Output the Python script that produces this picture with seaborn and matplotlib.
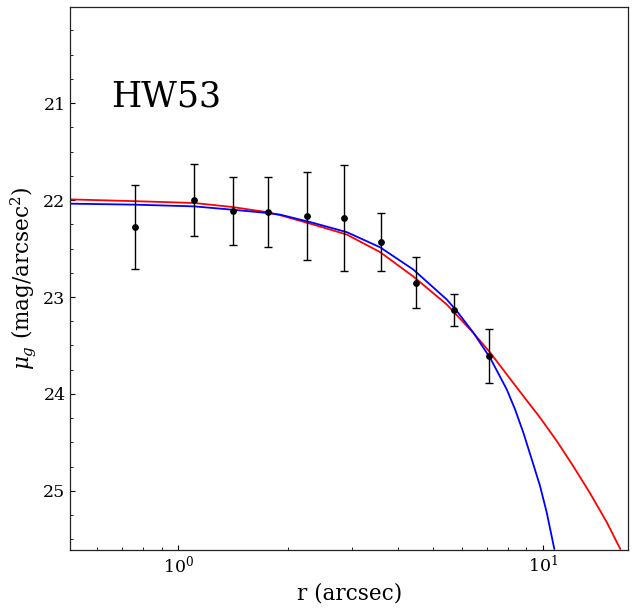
import numpy as np
import pandas as pd
import matplotlib
matplotlib.use("Agg")
import matplotlib.pyplot as plt
import seaborn as sns
from matplotlib.ticker import MultipleLocator, LogLocator, NullFormatter

# Observed profile
r_obs = [0.759, 1.108, 1.409, 1.757, 2.256, 2.855, 3.606, 4.497, 5.715, 7.127]
mu_obs = [22.277, 21.999, 22.112, 22.123, 22.164, 22.184, 22.431, 22.854, 23.132, 23.606]
mu_err = [0.433, 0.376, 0.355, 0.360, 0.457, 0.546, 0.299, 0.263, 0.165, 0.278]

# Red model curve
r_red = [0.5059, 0.7576, 1.1061, 1.4056, 1.7533, 1.9030, 2.3486, 2.8993, 3.5758, 4.4118,
         5.4468, 6.4442, 7.1571, 7.9535, 8.8319, 9.8125, 10.903, 12.106, 13.455, 14.947, 16.285]
mu_red = [21.993, 22.011, 22.030, 22.071, 22.125, 22.156, 22.253, 22.356, 22.537, 22.789,
          23.077, 23.371, 23.572, 23.798, 24.022, 24.244, 24.485, 24.746, 25.024, 25.322, 25.600]

# Blue model curve
r_blue = [0.5059, 0.7576, 1.1061, 1.4056, 1.7533, 1.9030, 2.3486, 2.8993, 3.5758, 4.4118,
          5.4468, 5.8006, 6.4442, 7.1571, 7.9535, 8.3809, 8.8319, 9.3115, 9.8125, 10.236, 10.739]
mu_blue = [22.037, 22.047, 22.065, 22.099, 22.133, 22.150, 22.236, 22.331, 22.487, 22.717,
           23.026, 23.144, 23.369, 23.626, 23.953, 24.159, 24.399, 24.674, 24.949, 25.223, 25.600]

label_text = "HW53"

sns.set_style("ticks")
plt.rcParams['font.family'] = ['DejaVu Serif']
plt.rcParams['mathtext.fontset'] = 'dejavuserif'
plt.rcParams.update({
    'xtick.direction': 'in', 'ytick.direction': 'in',
    'xtick.major.size': 3.5, 'ytick.major.size': 3.5,
    'xtick.minor.size': 2, 'ytick.minor.size': 2,
    'xtick.major.width': 0.8, 'ytick.major.width': 0.8,
    'xtick.minor.width': 0.6, 'ytick.minor.width': 0.6,
    'axes.linewidth': 0.9,
    'text.color': 'black', 'axes.labelcolor': 'black',
    'xtick.color': 'black', 'ytick.color': 'black',
    'axes.edgecolor': '#222222',
})

fig = plt.figure(figsize=(6.34, 6.08), dpi=100)
ax = fig.add_axes([70.3/634, 1-550/608, (628.3-70.3)/634, (550-7)/608])

df_red = pd.DataFrame({'r': r_red, 'mu': mu_red})
df_blue = pd.DataFrame({'r': r_blue, 'mu': mu_blue})
df_obs = pd.DataFrame({'r': r_obs, 'mu': mu_obs, 'err': mu_err})

ax.errorbar(df_obs['r'], df_obs['mu'], yerr=df_obs['err'], fmt='none',
            ecolor='black', elinewidth=1.0, capsize=2.8, capthick=1.0, zorder=3)
sns.scatterplot(data=df_obs, x='r', y='mu', color='black', s=24, edgecolor='black',
                linewidth=0, ax=ax, zorder=4)
sns.lineplot(data=df_red, x='r', y='mu', color='red', lw=1.3, sort=False,
             estimator=None, ax=ax, zorder=2)
sns.lineplot(data=df_blue, x='r', y='mu', color='blue', lw=1.3, sort=False,
             estimator=None, ax=ax, zorder=2)

ax.set_xscale('log')
ax.set_xlim(0.506, 17.13)
ax.set_ylim(25.61, 20.008)
ax.yaxis.set_major_locator(MultipleLocator(1))
ax.yaxis.set_minor_locator(MultipleLocator(0.25))
ax.xaxis.set_minor_locator(LogLocator(base=10, subs=np.arange(2, 10)))
ax.xaxis.set_minor_formatter(NullFormatter())
ax.tick_params(which='both', top=False, right=False, labelsize=12.5)

ax.set_xlabel('r (arcsec)', fontsize=15.5)
ax.set_ylabel(r'$\mu_g$ (mag/arcsec$^2$)', fontsize=15.5)
ax.text(0.655, 21.03, label_text, fontsize=25, ha='left', va='baseline', color='black')

fig.savefig('out.png', dpi=100)
